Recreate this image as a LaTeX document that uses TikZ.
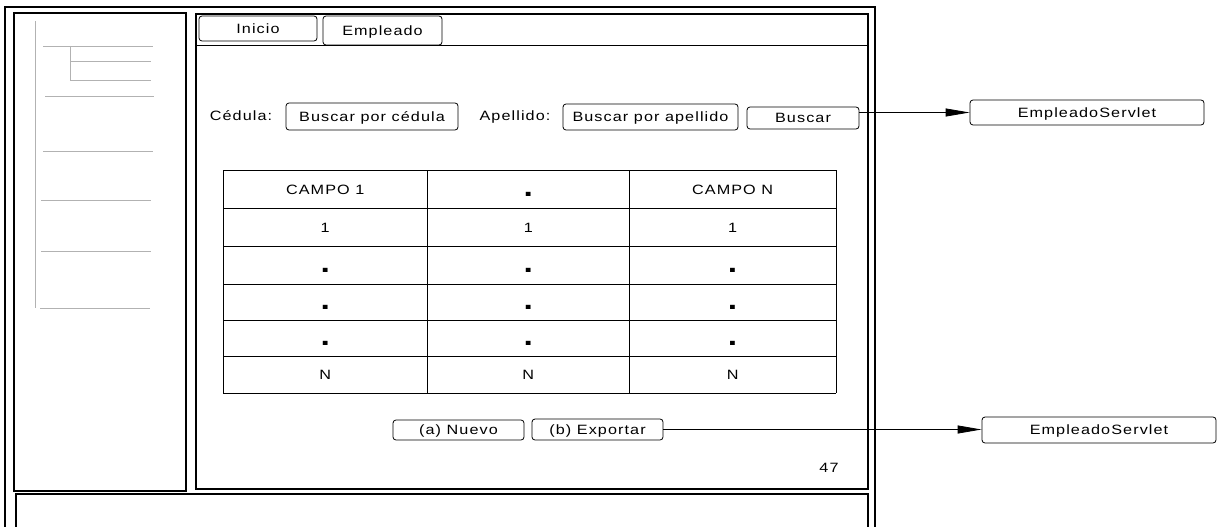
\documentclass[tikz,border=0pt]{standalone}
\usepackage{fontspec}
\setmainfont{Liberation Sans}[FakeStretch=1.2,LetterSpace=8]
\usetikzlibrary{arrows.meta,positioning}
\newcommand{\punto}{\raisebox{-2pt}{\fontsize{28}{28}\selectfont\bfseries .}}

\tikzset{
  marco/.style={draw,line width=1.5pt},
  boton/.style={draw,rounded corners=3pt,line width=0.8pt,inner sep=0pt,
    text height=9.5pt,text depth=0pt,font=\fontsize{13.5}{15}\selectfont},
  texto/.style={inner sep=0pt,text height=9.5pt,text depth=0pt,font=\fontsize{13.5}{15}\selectfont},
  celda/.style={texto},
  tabla/.style={line width=0.8pt},
  arbol/.style={gray!60,line width=0.8pt},
  flecha/.style={-{Triangle[length=24pt,width=8pt]},line width=0.8pt}
}

\begin{document}
\begin{tikzpicture}[x=1pt,y=-1pt]
\useasboundingbox (0,0) rectangle (1218,527);

% marcos de la pantalla
\draw[marco] (5,545) |- (875,7) -- (875,545);
\draw[marco] (14,13) rectangle (186,491);
\draw[marco] (196,14) rectangle (868,489);
\draw[marco] (16,545) |- (868,494) -- (868,545);
\draw[line width=1pt] (196,46) -- (868,46);

% menu lateral
\draw[arbol] (35,21) -- (35,308);
\draw[arbol] (43,46) -- (153,46);
\draw[arbol] (70,46) -- (70,80) -- (151,80);
\draw[arbol] (71,61) -- (151,61);
\draw[arbol] (45,96) -- (154,96);
\draw[arbol] (43,151) -- (153,151);
\draw[arbol] (41,200) -- (151,200);
\draw[arbol] (41,251) -- (151,251);
\draw[arbol] (40,308) -- (150,308);

% pestanas
\node[boton,minimum width=118pt,minimum height=25pt] (inicio) at (258,28.5) {Inicio};
\node[boton,minimum width=119pt,minimum height=29pt] (empleado) at (382.5,30.5) {Empleado};

% busqueda
\node[texto] (cedula) at (241,116) {Cédula:};
\node[boton,minimum width=172pt,minimum height=27pt] (bcedula) at (372,116.5) {Buscar por cédula};
\node[texto] (apellido) at (515,116) {Apellido:};
\node[boton,minimum width=175pt,minimum height=26pt] (bapellido) at (650.5,117) {Buscar por apellido};
\node[boton,minimum width=112pt,minimum height=22pt] (buscar) at (803,118) {Buscar};
\node[boton,minimum width=234pt,minimum height=25pt] (servlet1) at (1087,112.5) {EmpleadoServlet};
\draw[flecha] (buscar.east |- servlet1.west) -- (servlet1.west);

% tabla de resultados
\foreach \y in {170,208.7,246.7,284.4,320.4,356.8,393}
  \draw[tabla] (223,\y) -- (836,\y);
\foreach \x in {223,427.3,629.2,836}
  \draw[tabla] (\x,170) -- (\x,393);
\foreach \cx/\txt [count=\c] in {325.2/CAMPO 1,528.3/\punto,732.6/CAMPO N}
  \node[celda] (h\c) at (\cx,189.4) {\txt};
\foreach \fy/\txt [count=\f] in {227.7/1,265.5/\punto,302.4/\punto,338.6/\punto,374.9/N}
  \foreach \cx [count=\c] in {325.2,528.3,732.6}
    \node[celda] (f\f c\c) at (\cx,\fy) {\txt};

% acciones
\node[boton,minimum width=131pt,minimum height=20pt] (nuevo) at (458.5,430) {(a) Nuevo};
\node[boton,minimum width=131pt,minimum height=21pt] (exportar) at (597.5,429.5) {(b) Exportar};
\node[boton,minimum width=234pt,minimum height=26pt] (servlet2) at (1099,430) {EmpleadoServlet};
\draw[flecha] (exportar.east) -- (exportar.east -| servlet2.west);

\node[texto] (pagina) at (829,468) {47};
\end{tikzpicture}
\end{document}
